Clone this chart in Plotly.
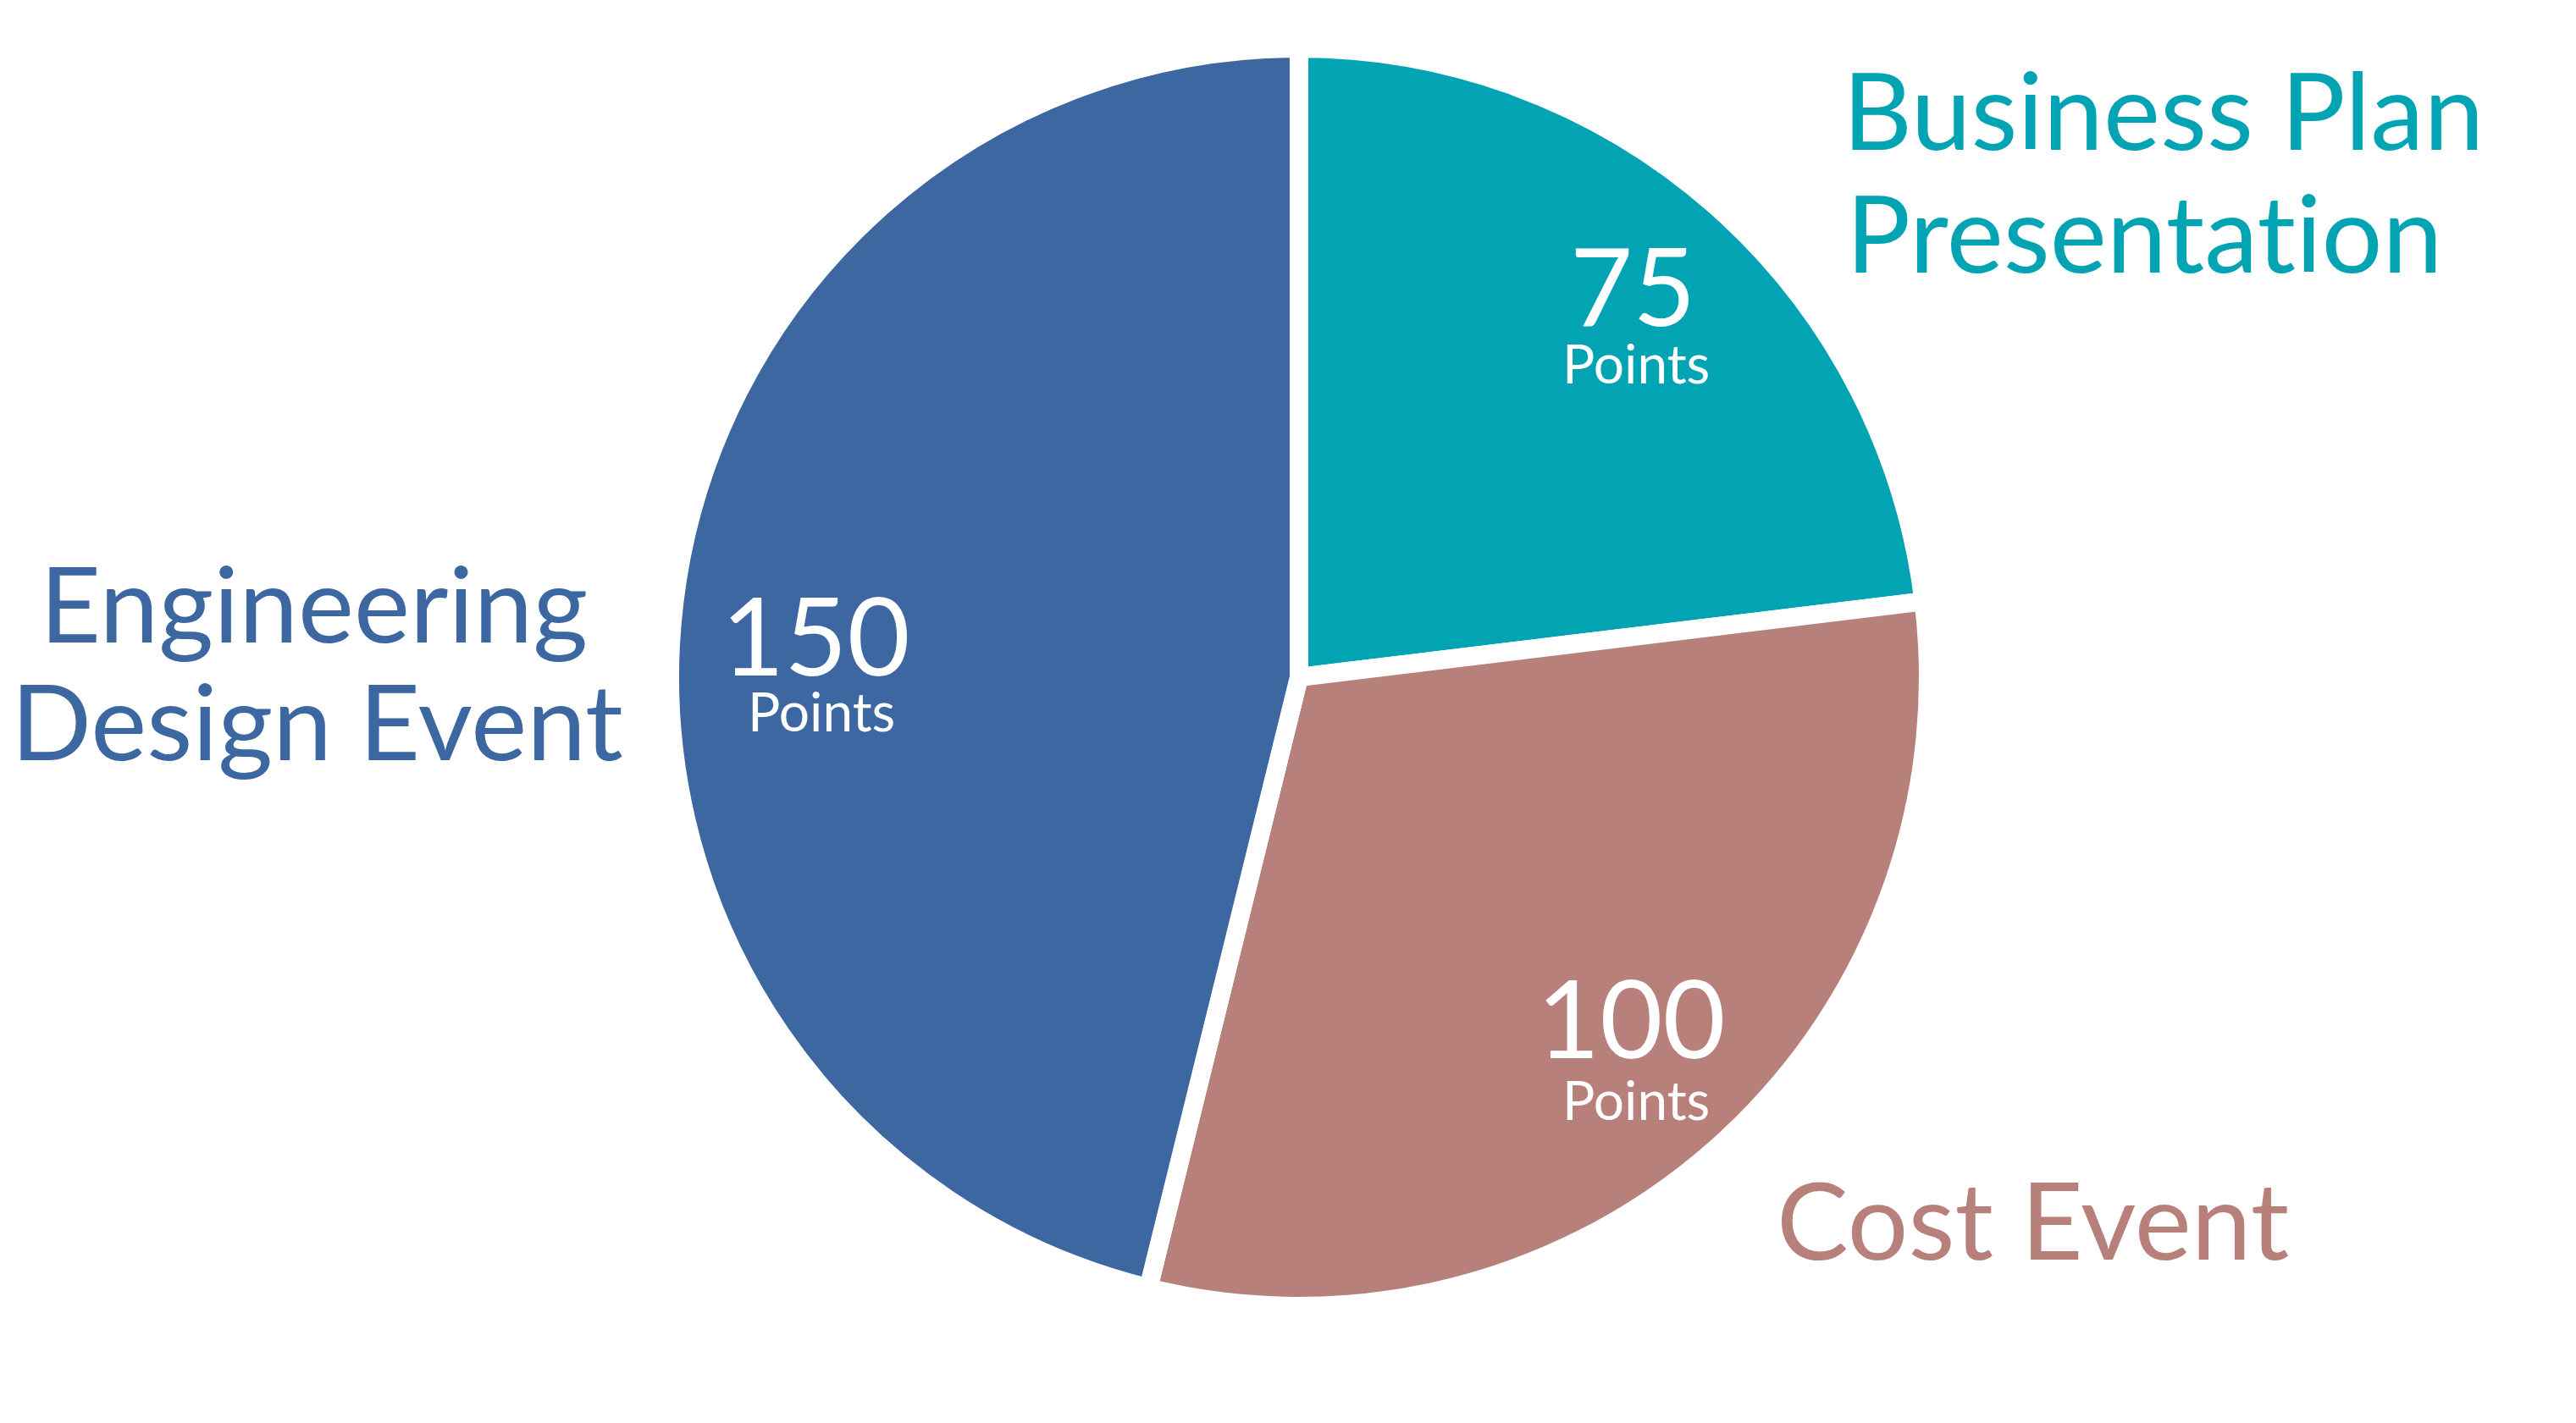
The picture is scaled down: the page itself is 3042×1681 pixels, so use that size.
import plotly.graph_objects as go

# ---- data ----
labels = ["Business Plan Presentation", "Cost Event", "Engineering Design Event"]
points = [75, 100, 150]
colors = ["#02A3B3", "#B7807A", "#3C67A0"]
# \u200c keeps the font from fusing "ti" into a ligature
label_lines = [["Business Plan", "Presentat\u200cion"], ["Cost Event"], ["Engineering", "Design Event"]]
unit = "Points"

W, H = 3042, 1681
FONT = "Lato"

CX, CY, R = 1526, 792, 743

fig = go.Figure(go.Pie(
    labels=labels,
    values=points,
    sort=False,
    direction="clockwise",
    rotation=0,
    marker=dict(colors=colors, line=dict(color="white", width=22)),
    textinfo="none",
    hoverinfo="label+value",
    domain=dict(x=[(CX - R) / W, (CX + R) / W],
                y=[(H - (CY + R)) / H, (H - (CY - R)) / H]),
    showlegend=False,
))

def px(x, y):
    return x / W, 1 - y / H

annotations = []

# outer category labels (pixel placement of text blocks)
outer = {
    0: dict(lines=[(2166, 120), (2170, 265)], xanchor="left", size=127),
    1: dict(lines=[(2088, 1431)], xanchor="left", size=127),
    2: dict(lines=[(362, 703), (366, 842)], xanchor="center", size=125),
}
for i, spec in outer.items():
    for txt, (x, y) in zip(label_lines[i], spec["lines"]):
        ax, ay = px(x, y)
        annotations.append(dict(
            text=txt, x=ax, y=ay, xref="paper", yref="paper",
            xanchor=spec["xanchor"], yanchor="middle", showarrow=False,
            font=dict(family=FONT, size=spec["size"], color=colors[i]),
        ))

# inner value labels
inner = {
    0: ((1920, 328), (1924, 420)),
    1: ((1918, 1192), (1924, 1290)),
    2: ((956, 740), (962, 832)),
}
for i, ((nx, ny), (ux, uy)) in inner.items():
    ax, ay = px(nx, ny)
    annotations.append(dict(
        text=str(points[i]), x=ax, y=ay, xref="paper", yref="paper",
        xanchor="center", yanchor="middle", showarrow=False,
        font=dict(family=FONT, size=128, color="white"),
    ))
    ax, ay = px(ux, uy)
    annotations.append(dict(
        text=unit, x=ax, y=ay, xref="paper", yref="paper",
        xanchor="center", yanchor="middle", showarrow=False,
        font=dict(family=FONT, size=64, color="white"),
    ))

fig.update_layout(
    width=W, height=H,
    margin=dict(l=0, r=0, t=0, b=0),
    paper_bgcolor="white",
    plot_bgcolor="white",
    annotations=annotations,
)

fig.write_html("out.html")
